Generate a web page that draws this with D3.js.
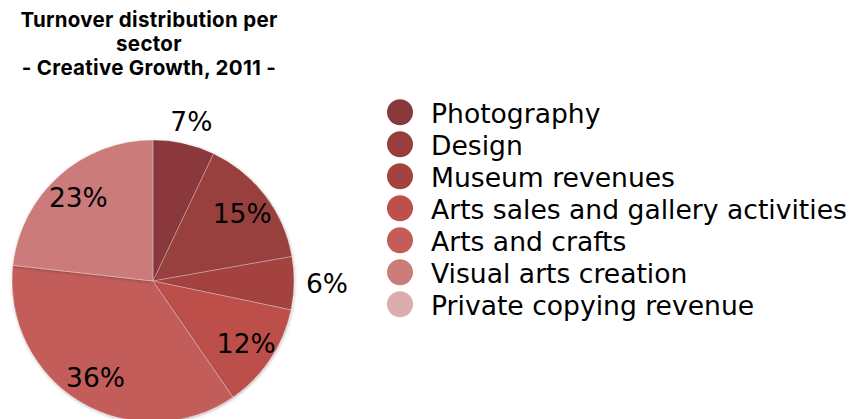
<!DOCTYPE html>
<html>
<head>
<meta charset="utf-8">
<script src="https://cdn.jsdelivr.net/npm/d3@7"></script>
<style>
  html, body { margin: 0; padding: 0; background: #fff; }
  svg { display: block; }
</style>
</head>
<body>
<svg id="chart" width="849" height="419"></svg>
<script>
// Turnover shares per sector (percent), Creative Growth 2011
const sectors = [
  "Photography",
  "Design",
  "Museum revenues",
  "Arts sales and gallery activities",
  "Arts and crafts",
  "Visual arts creation",
  "Private copying revenue"
];
const shares = [7, 15, 6, 12, 36, 23, 0];
const colors = ["#8a383a", "#983f3d", "#a44240", "#bd4f4c", "#c25d5a", "#cb7c7a", "#dbaead"];
const titleLines = ["Turnover distribution per", "sector", "- Creative Growth, 2011 -"];

const svg = d3.select("#chart");

// Title
svg.append("g")
  .selectAll("text")
  .data(titleLines)
  .join("text")
  .attr("x", 149)
  .attr("y", (d, i) => 27 + i * 24)
  .attr("text-anchor", "middle")
  .attr("font-family", "Inter, 'Open Sans', sans-serif")
  .attr("font-weight", 700)
  .attr("font-size", 20.5)
  .attr("letter-spacing", 0.3)
  .attr("fill", "#000")
  .text(d => d);

// Pie
const cx = 153, cy = 281, R = 141;
const data = sectors.map((s, i) => ({ sector: s, value: shares[i], color: colors[i] }));
const pie = d3.pie().value(d => d.value).sort(null);
const arcs = pie(data);
const arc = d3.arc().innerRadius(0).outerRadius(R);

const defs = svg.append("defs");
const shadow = defs.append("filter").attr("id", "sliceShadow")
  .attr("x", "-20%").attr("y", "-20%").attr("width", "140%").attr("height", "140%");
shadow.append("feDropShadow")
  .attr("dx", 0.5).attr("dy", 1).attr("stdDeviation", 1.4)
  .attr("flood-color", "#000").attr("flood-opacity", 0.3);

const pieG = svg.append("g").attr("transform", `translate(${cx},${cy})`);
pieG.selectAll("path")
  .data(arcs.filter(a => a.data.value > 0))
  .join("path")
  .attr("d", arc)
  .attr("fill", d => d.data.color)
  .attr("stroke", "rgba(255,255,255,0.35)")
  .attr("stroke-width", 0.8)
  .attr("filter", "url(#sliceShadow)");

// Percentage labels: inside for larger slices, outside for small ones
const labelFont = 26.5;
const labels = pieG.append("g")
  .attr("font-family", "'DejaVu Sans', Verdana, sans-serif")
  .attr("font-size", labelFont)
  .attr("fill", "#000");

arcs.filter(a => a.data.value > 0).forEach(a => {
  const mid = (a.startAngle + a.endAngle) / 2;
  const sx = Math.sin(mid), sy = -Math.cos(mid);
  const t = labels.append("text")
    .attr("text-anchor", "middle")
    .text(`${a.data.value}%`);
  let x, y;
  if (a.data.value >= 10) {
    const r = 112;
    x = sx * r; y = sy * r;
  } else {
    const hw = t.node().getComputedTextLength() / 2, hh = 11;
    const r = R + 12;
    x = sx * r + sx * hw;
    y = sy * r + sy * hh;
  }
  t.attr("x", x).attr("y", y + 9.5);
});

// Legend
const legend = svg.append("g").attr("transform", "translate(400,112.3)");
const item = legend.selectAll("g")
  .data(data)
  .join("g")
  .attr("transform", (d, i) => `translate(0,${i * 32})`);
item.append("circle")
  .attr("r", 13)
  .attr("fill", d => d.color);
item.append("text")
  .attr("x", 31)
  .attr("y", 11)
  .attr("font-family", "'DejaVu Sans', Verdana, sans-serif")
  .attr("font-size", 26.6)
  .attr("fill", "#000")
  .text(d => d.sector);
</script>
</body>
</html>
